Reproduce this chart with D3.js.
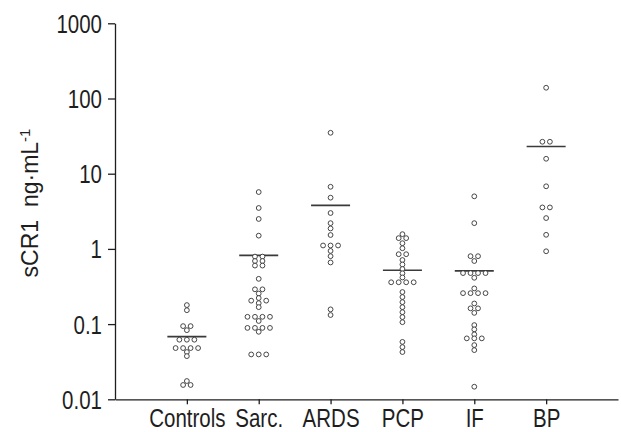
<!DOCTYPE html>
<html>
<head>
<meta charset="utf-8">
<script src="https://cdn.jsdelivr.net/npm/d3@7"></script>
<style>
  html, body { margin: 0; padding: 0; background: #fff; }
  svg { display: block; font-family: "Liberation Sans", Arial, Helvetica, sans-serif; }
</style>
</head>
<body>
<svg id="chart" width="621" height="432"></svg>
<script>
// Patient groups on the x axis
const categories = ["Controls", "Sarc.", "ARDS", "PCP", "IF", "BP"];

// sCR1 concentrations (ng·mL-1), one array per group
const controls = [0.179, 0.153, 0.094, 0.094, 0.083, 0.062, 0.062, 0.062,
  0.048, 0.048, 0.048, 0.048, 0.0425, 0.0375, 0.0175, 0.0155, 0.0155];
const sarc = [5.7, 3.5, 2.5, 1.5, 0.79, 0.79, 0.69, 0.69, 0.60, 0.60, 0.40,
  0.29, 0.29, 0.255, 0.222, 0.205, 0.205, 0.19, 0.168,
  0.125, 0.125, 0.125, 0.125, 0.11, 0.089, 0.089, 0.089, 0.089, 0.079,
  0.0395, 0.0395, 0.0395];
const ards = [35, 6.7, 4.8, 3.0, 2.2, 1.87, 1.53, 1.11, 1.11, 1.11, 0.94,
  0.80, 0.66, 0.157, 0.132];
const pcp = [1.57, 1.39, 1.39, 1.19, 1.02, 0.85, 0.85, 0.711, 0.62, 0.54,
  0.474, 0.417, 0.36, 0.36, 0.36, 0.36, 0.267, 0.229, 0.196, 0.168, 0.144,
  0.124, 0.106, 0.058, 0.0495, 0.0425];
const ifib = [5.0, 2.2, 0.80, 0.80, 0.69, 0.477, 0.477, 0.477, 0.477, 0.413,
  0.298, 0.258, 0.258, 0.258, 0.258, 0.188, 0.162, 0.162, 0.141, 0.097,
  0.085, 0.073, 0.0646, 0.0646, 0.0646, 0.0526, 0.0451, 0.0147];
const bp = [139, 26.6, 26.6, 15.8, 6.8, 3.56, 3.56, 2.57, 1.54, 0.93];

// Group means shown as horizontal bars
const groupMeans = [0.068, 0.82, 3.8, 0.52, 0.51, 23];

// Y axis ticks
const yTicks = [0.01, 0.1, 1, 10, 100, 1000];
const yTickLabels = ["0.01", "0.1", "1", "10", "100", "1000"];

const groups = [controls, sarc, ards, pcp, ifib, bp];

const svg = d3.select("#chart");
const plotLeft = 115, plotRight = 618, plotTop = 23.3, plotBottom = 399.3;

const x = d3.scalePoint().domain(categories).range([plotLeft, plotRight]).padding(1);
const y = d3.scaleLog().domain([0.01, 1000]).range([plotBottom, plotTop]);

const ink = "#1e1e1e";
const labelSize = 25, narrow = 0.82;   // condensed sans for tick labels

// Axes
const yAxis = svg.append("g")
  .attr("transform", `translate(${plotLeft},0)`)
  .call(d3.axisLeft(y).tickValues(yTicks)
    .tickFormat((d, i) => yTickLabels[i])
    .tickSize(7).tickSizeOuter(0).tickPadding(5));

const xAxis = svg.append("g")
  .attr("transform", `translate(0,${plotBottom})`)
  .call(d3.axisBottom(x).tickSize(5).tickSizeOuter(0).tickPadding(8));

[yAxis, xAxis].forEach(g => {
  g.select(".domain").attr("stroke", ink).attr("stroke-width", 1.3);
  g.selectAll(".tick line").attr("stroke", ink).attr("stroke-width", 1.3);
  g.selectAll(".tick text").attr("fill", ink).style("font-size", labelSize + "px")
    .style("font-family", "'Liberation Sans', Arial, sans-serif")
    .attr("transform", `scale(${narrow},1)`);
});
yAxis.selectAll(".tick text").attr("x", -13 / narrow).attr("dy", "0.36em");
xAxis.selectAll(".tick text").attr("y", 0).attr("dy", 0)
  .attr("transform", `translate(0,27.2) scale(${narrow},1)`);

// Y axis title
const title = svg.append("text")
  .attr("transform", `translate(38,203) rotate(-90)`)
  .attr("text-anchor", "middle")
  .attr("fill", ink)
  .style("font-size", "23px");
title.append("tspan").text("sCR1\u00a0\u00a0ng\u00b7mL");
title.append("tspan").attr("dy", "-0.55em").style("font-size", "15px").text("-1");

// Swarm layout: equal values form centred rows, nearby rows are nudged apart
const step = 7.5, minGap = 3.5;
function swarm(values) {
  const rows = d3.groups(values, v => v)
    .map(([v, arr]) => ({ v, n: arr.length, py: y(v) }))
    .sort((a, b) => a.py - b.py);
  const placed = [];
  const hits = (dx, py) => placed.some(p =>
    Math.abs(p.py - py) < minGap && Math.abs(p.dx - dx) < step - 0.01);
  rows.forEach(r => {
    const centred = d3.range(r.n).map(i => (i - (r.n - 1) / 2) * step);
    const split = d3.range(r.n).map(i => (i % 2 ? 1 : -1) * (Math.floor(i / 2) + 1) * step);
    let offs = centred;
    if (centred.some(dx => hits(dx, r.py))) offs = split;
    if (offs.some(dx => hits(dx, r.py))) {
      for (let i = 0; i < r.n; i++) {
        for (let k = 0; k < 40; k++) {
          const dx = (k % 2 ? 1 : -1) * Math.ceil(k / 2) * step / 2;
          if (!hits(dx, r.py)) { placed.push({ dx, py: r.py, v: r.v }); break; }
        }
      }
      return;
    }
    offs.forEach(dx => placed.push({ dx, py: r.py, v: r.v }));
  });
  return placed;
}

const plot = svg.append("g");
groups.forEach((vals, gi) => {
  const cx = x(categories[gi]);
  const g = plot.append("g");
  // mean bar
  g.append("line")
    .attr("x1", cx - 19.5).attr("x2", cx + 19.5)
    .attr("y1", y(groupMeans[gi])).attr("y2", y(groupMeans[gi]))
    .attr("stroke", "#3a3a3a").attr("stroke-width", 1.7);
  g.selectAll("circle").data(swarm(vals)).join("circle")
    .attr("cx", d => cx + d.dx)
    .attr("cy", d => y(d.v))
    .attr("r", 2.4)
    .attr("fill", "#fff")
    .attr("stroke", "#333")
    .attr("stroke-width", 0.9);
});
</script>
</body>
</html>
